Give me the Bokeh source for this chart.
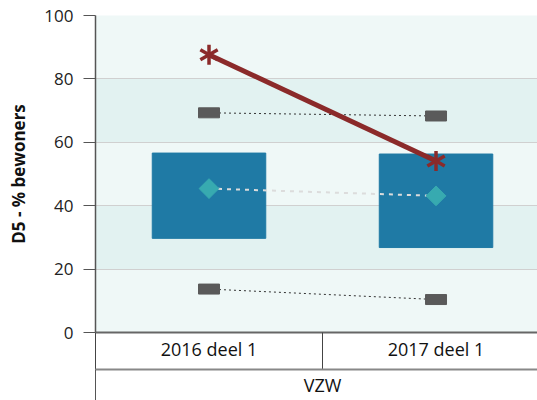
import math
from bokeh.plotting import figure
from bokeh.models import Range1d, LinearAxis, FixedTicker
from bokeh.embed import file_html
from bokeh.resources import INLINE

# ---- data ----
periods = ["2016 deel 1", "2017 deel 1"]
group_label = "VZW"
box_low = [29.7, 26.8]
box_high = [56.6, 56.3]
mean_vals = [45.4, 43.1]
p10_vals = [13.7, 10.4]
p90_vals = [69.3, 68.3]
own_vals = [87.6, 54.1]
y_ticks = [0, 20, 40, 60, 80, 100]
y_title = "D5 - % bewoners"

xs = [i + 0.5 for i in range(len(periods))]
bounds = [i for i in range(len(periods))]

FONT = "Open Sans"
RED = "#8b2a2a"

p = figure(width=537, height=400,
           x_range=Range1d(0, 1.947), y_range=Range1d(0, 100),
           output_backend="svg", toolbar_location=None,
           x_axis_location=None,
           min_border_left=95, min_border_right=0,
           min_border_top=15, min_border_bottom=68,
           background_fill_color="#eff8f7", border_fill_color="white",
           outline_line_color=None)

p.ygrid.grid_line_color = "#d0d0d0"
p.ygrid.band_fill_color = "#e2f2f1"
p.ygrid.band_fill_alpha = 1
p.xgrid.grid_line_color = None

ya = p.yaxis[0]
ya.ticker = FixedTicker(ticks=y_ticks)
ya.major_tick_out = 12
ya.major_tick_in = 0
ya.minor_tick_line_color = None
ya.axis_line_color = "#555555"
ya.axis_line_width = 1.5
ya.major_tick_line_color = "#555555"
ya.major_label_text_font = FONT
ya.major_label_text_font_size = "17px"
ya.major_label_text_color = "#222222"
ya.major_label_standoff = 10
ya.axis_label = y_title
ya.axis_label_text_font = FONT
ya.axis_label_text_font_size = "17px"
ya.axis_label_text_font_style = "bold"
ya.axis_label_text_color = "#111111"
ya.axis_label_standoff = 11

# marks
p.vbar(x=xs, bottom=box_low, top=box_high, width=0.5, color="#1f7aa5")
p.line(xs, p90_vals, line_dash="2 3", line_color="#333333", line_width=1)
p.line(xs, p10_vals, line_dash="2 3", line_color="#333333", line_width=1)
p.rect(xs, p90_vals, width=21, height=10, width_units="screen",
       height_units="screen", color="#5a5a5a")
p.rect(xs, p10_vals, width=21, height=10, width_units="screen",
       height_units="screen", color="#5a5a5a")
p.line(xs, mean_vals, line_color="#dcdcdc", line_width=2, line_dash="4 5")
p.scatter(xs, mean_vals, marker="square", size=14, angle=math.pi / 4,
          color="#37aab0")
p.line(xs, own_vals, line_color=RED, line_width=5)
for ang in (90, 30, 150):
    p.scatter(xs, own_vals, marker="dash", size=20, angle=math.radians(ang),
              line_width=3.5, line_color=RED)

# category axis (level 1)
axA = LinearAxis(ticker=FixedTicker(ticks=xs, minor_ticks=bounds),
                 major_label_overrides={x: lab for x, lab in zip(xs, periods)})
axA.major_tick_out = 0
axA.major_tick_in = 0
axA.major_tick_line_color = None
axA.minor_tick_out = 37
axA.minor_tick_in = 0
axA.minor_tick_line_color = "#444444"
axA.axis_line_color = "#666666"
axA.axis_line_width = 2
axA.major_label_standoff = -33
axA.major_label_text_font = FONT
axA.major_label_text_font_size = "18px"
axA.major_label_text_color = "#111111"
axA.axis_label = " "
axA.axis_label_text_font_size = "1px"
axA.axis_label_standoff = 2
p.add_layout(axA, "below")

# group axis (level 2)
axB = LinearAxis(ticker=FixedTicker(ticks=[len(periods) / 2], minor_ticks=[0]),
                 major_label_overrides={len(periods) / 2: group_label})
axB.major_tick_out = 0
axB.major_tick_in = 0
axB.major_tick_line_color = None
axB.minor_tick_out = 34
axB.minor_tick_in = 0
axB.minor_tick_line_color = "#555555"
axB.axis_line_color = "#888888"
axB.axis_line_width = 2
axB.major_label_standoff = -31
axB.major_label_text_font = FONT
axB.major_label_text_font_size = "18px"
axB.major_label_text_color = "#111111"
p.add_layout(axB, "below")

open("out.html", "w").write(file_html(p, INLINE))
